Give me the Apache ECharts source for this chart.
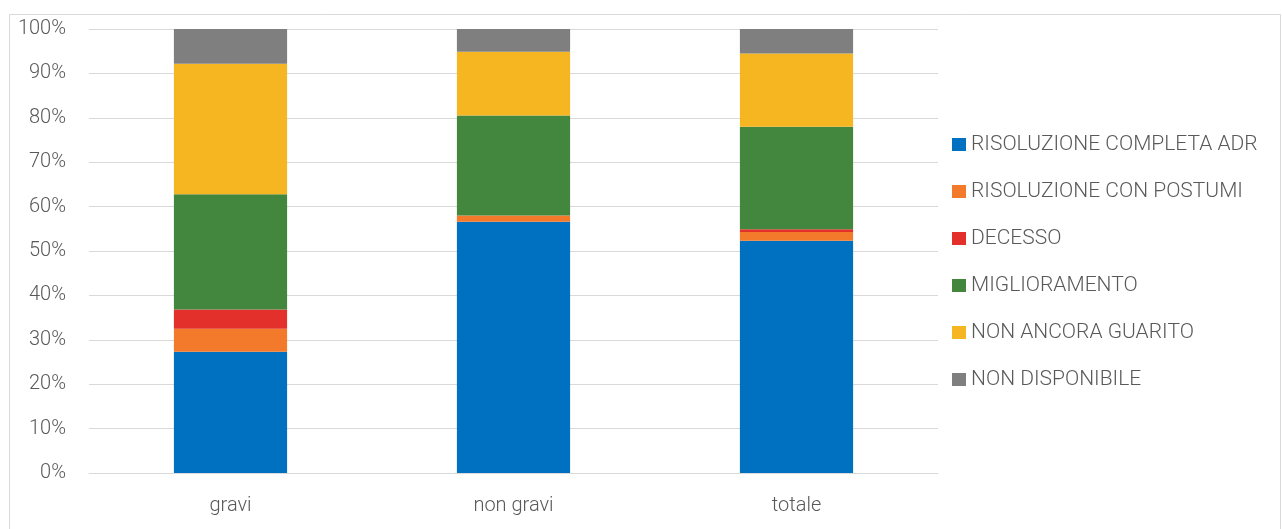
<!DOCTYPE html>
<html>
<head>
<meta charset="utf-8">
<script src="https://cdn.jsdelivr.net/npm/echarts@6/dist/echarts.min.js"></script>
<style>
  html, body { margin: 0; padding: 0; background: #fff; }
  #main { width: 1282px; height: 529px; }
</style>
</head>
<body>
<div id="main"></div>
<script>
// categorie
var categories = ["gravi", "non gravi", "totale"];
// percentuali per esito
var risoluzioneCompleta = [27.3, 56.6, 52.3];
var risoluzionePostumi  = [5.2, 1.4, 2.0];
var decesso             = [4.3, 0.0, 0.6];
var miglioramento       = [26.0, 22.5, 23.1];
var nonAncoraGuarito    = [29.4, 14.4, 16.5];
var nonDisponibile      = [7.8, 5.1, 5.5];

var seriesNames = ["RISOLUZIONE COMPLETA ADR", "RISOLUZIONE CON POSTUMI", "DECESSO",
                   "MIGLIORAMENTO", "NON ANCORA GUARITO", "NON DISPONIBILE"];
var seriesData = [risoluzioneCompleta, risoluzionePostumi, decesso,
                  miglioramento, nonAncoraGuarito, nonDisponibile];
var colors = ["#0070C0", "#F37A2A", "#E3302A", "#43873E", "#F5B621", "#7F7F7F"];

var font = "Roboto, 'Liberation Sans', sans-serif";

var myChart = echarts.init(document.getElementById('main'));

var series = seriesData.map(function (d, i) {
    return {
        name: seriesNames[i],
        type: 'bar',
        stack: 'tot',
        barWidth: '40%',
        data: d,
        itemStyle: { color: colors[i] }
    };
});

var option = {
    animation: false,
    color: colors,
    graphic: [{
        type: 'rect',
        shape: { x: 9.5, y: 14.5, width: 1271, height: 540 },
        style: { fill: 'none', stroke: '#d9d9d9', lineWidth: 1 },
        silent: true
    }],
    grid: { left: 89, right: 344, top: 29, bottom: 56 },
    legend: {
        orient: 'vertical',
        left: 952,
        top: 134,
        padding: 0,
        itemWidth: 14,
        itemHeight: 13,
        itemGap: 26,
        icon: 'rect',
        data: seriesNames,
        textStyle: { fontFamily: font, fontWeight: 300, fontSize: 21, lineHeight: 21, color: '#595959' }
    },
    xAxis: {
        type: 'category',
        data: categories,
        axisLine: { lineStyle: { color: '#d9d9d9', width: 1 } },
        axisTick: { show: false },
        axisLabel: { fontFamily: font, fontWeight: 300, fontSize: 20, color: '#595959', margin: 23 }
    },
    yAxis: {
        type: 'value',
        min: 0,
        max: 100,
        interval: 10,
        axisLine: { show: false },
        axisTick: { show: false },
        splitLine: { lineStyle: { color: '#d9d9d9', width: 1 } },
        axisLabel: { fontFamily: font, fontWeight: 300, fontSize: 20, color: '#595959', margin: 23, formatter: '{value}%' }
    },
    series: series
};
myChart.setOption(option);
</script>
</body>
</html>
